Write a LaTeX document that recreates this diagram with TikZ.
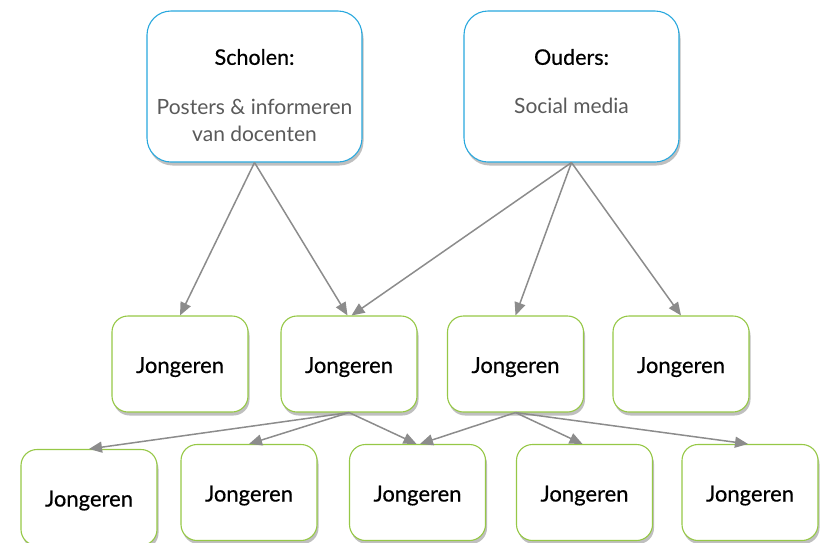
\documentclass[tikz,border=0pt]{standalone}
\usepackage{fontspec}
\setmainfont{Lato}
\newfontfamily\medfont[FakeBold=0.5]{Lato}
\usetikzlibrary{arrows.meta,shadows}
\definecolor{bblue}{RGB}{40,168,222}
\definecolor{bgreen}{RGB}{150,200,70}
\definecolor{agray}{RGB}{140,140,140}
\definecolor{tgray}{RGB}{90,90,90}
\begin{document}
\begin{tikzpicture}[x=1pt,y=-1pt,
  boxbase/.style={draw, fill=white, line width=1.1pt,
    drop shadow={shadow xshift=1.5pt, shadow yshift=-3.5pt, opacity=0.25, fill=black}},
  topbox/.style={boxbase, draw=bblue, rounded corners=24pt, minimum width=215pt, minimum height=151pt},
  jbox/.style={boxbase, draw=bgreen, rounded corners=16pt, minimum width=136pt, minimum height=96pt,
    font=\medfont\fontsize{22}{24}\selectfont, text=black, text height=20pt, text depth=2pt},
  titletext/.style={font=\medfont\fontsize{21.5}{24}\selectfont, text=black},
  subtext/.style={font=\fontsize{21}{27}\selectfont, text=tgray, align=center},
  arr/.style={draw=agray, line width=1.5pt, -{Triangle[length=13pt,width=11pt]}}]
\useasboundingbox (0,0) rectangle (822,542);
\clip (0,0) rectangle (822,542);
% top boxes
\node[topbox] (sch) at (254.5,86.5) {};
\node[topbox] (oud) at (571.5,86.5) {};
\node[titletext] (schT) at (254.5,57) {Scholen:};
\node[subtext] (schS) at (254.5,120) {Posters \& informeren\\van docenten};
\node[titletext] (oudT) at (571.5,57) {Ouders:};
\node[subtext] (oudS) at (571.5,106) {Social media};
% middle row
\node[jbox] (j1) at (180,364) {Jongeren};
\node[jbox] (j2) at (349,364) {Jongeren};
\node[jbox] (j3) at (515.5,364) {Jongeren};
\node[jbox] (j4) at (681,364) {Jongeren};
% bottom row
\node[jbox] (b1) at (89,497.5) {Jongeren};
\node[jbox] (b2) at (249,492.5) {Jongeren};
\node[jbox] (b3) at (417.5,492.5) {Jongeren};
\node[jbox] (b4) at (584.5,492.5) {Jongeren};
\node[jbox] (b5) at (750,492.5) {Jongeren};
% arrows
\draw[arr] (sch.south) -- (j1.north);
\draw[arr] (sch.south) -- ([xshift=-1.5pt]j2.north);
\draw[arr] (oud.south) -- ([xshift=2.5pt]j2.north);
\draw[arr] (oud.south) -- (j3.north);
\draw[arr] (oud.south) -- (j4.north);
\draw[arr] (j2.south) -- (b1.north);
\draw[arr] (j2.south) -- (b2.north);
\draw[arr] (j2.south) -- ([xshift=-1pt]b3.north);
\draw[arr] (j3.south) -- ([xshift=2.5pt]b3.north);
\draw[arr] (j3.south) -- ([xshift=-2pt]b4.north);
\draw[arr] (j3.south) -- ([xshift=-2pt]b5.north);
\end{tikzpicture}
\end{document}
